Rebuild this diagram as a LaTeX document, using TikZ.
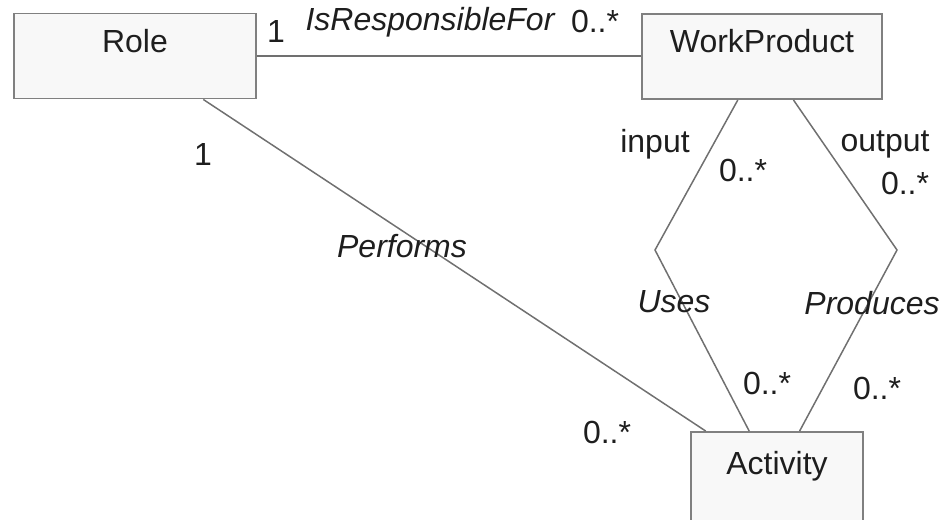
\documentclass[tikz,border=0pt]{standalone}
\usepackage{fontspec}
\setmainfont{Liberation Sans}
\usetikzlibrary{positioning, calc}

\definecolor{boxline}{HTML}{808080}
\definecolor{boxfill}{HTML}{F8F8F8}
\definecolor{assocline}{HTML}{707070}
\definecolor{labeltext}{HTML}{1E1E1E}
\newcommand{\umlfont}{\fontsize{18.2}{22}\selectfont}

\tikzset{
  classbox/.style={draw=boxline, line width=1.1pt, fill=boxfill, inner sep=0pt},
  classname/.style={anchor=north, yshift=-6pt, text=labeltext},
  assoc/.style={draw=assocline, line width=0.85pt},
  mult/.style={text=labeltext, inner sep=1pt},
  assocname/.style={text=labeltext, inner sep=1pt, font=\umlfont\itshape}
}

\begin{document}
\begin{tikzpicture}[font=\umlfont]
  \useasboundingbox (0,0) rectangle (18.86,-10.38);
  % クラス
  \node[classbox, minimum width=4.84cm, minimum height=1.70cm] (role) at (2.70,-1.12) {};
  \node[classname] (role-name) at (role.north) {Role};
  \node[classbox, minimum width=4.80cm, minimum height=1.70cm] (wp) at (15.24,-1.13) {};
  \node[classname] (wp-name) at (wp.north) {WorkProduct};
  \node[classbox, minimum width=3.44cm, minimum height=1.82cm] (act) at (15.54,-9.55) {};
  \node[classname, yshift=-2pt] (act-name) at (act.north) {Activity};

  % 関連
  \coordinate (usesbend) at (13.10,-5.00);
  \coordinate (prodbend) at (17.94,-5.00);
  \draw[assoc] (role.east) -- (role.east -| wp.west);
  \draw[assoc] ($(role.south west)!0.78!(role.south east)$) -- ($(act.north west)!0.09!(act.north east)$);
  \draw[assoc] ($(wp.south west)!0.40!(wp.south east)$) -- (usesbend) -- ($(act.north west)!0.34!(act.north east)$);
  \draw[assoc] ($(wp.south west)!0.63!(wp.south east)$) -- (prodbend) -- ($(act.north west)!0.63!(act.north east)$);

  % 関連名
  \node[assocname] (resp) at (8.60,-0.44) {IsResponsibleFor};
  \node[assocname] (perf) at (8.04,-4.92) {Performs};
  \node[assocname] (uses) at (13.48,-6.04) {Uses};
  \node[assocname] (prod) at (17.44,-6.06) {Produces};

  % ロール名
  \node[mult] (in-role) at (13.10,-2.88) {input};
  \node[mult] (out-role) at (17.70,-2.88) {output};

  % 多重度
  \node[mult] (resp-role) at (5.52,-0.62) {1};
  \node[mult] (resp-wp) at (11.90,-0.42) {0..*};
  \node[mult] (perf-role) at (4.06,-3.08) {1};
  \node[mult] (perf-act) at (12.14,-8.64) {0..*};
  \node[mult] (uses-wp) at (14.86,-3.40) {0..*};
  \node[mult] (uses-act) at (15.34,-7.66) {0..*};
  \node[mult] (prod-wp) at (18.10,-3.66) {0..*};
  \node[mult] (prod-act) at (17.54,-7.76) {0..*};
\end{tikzpicture}
\end{document}
